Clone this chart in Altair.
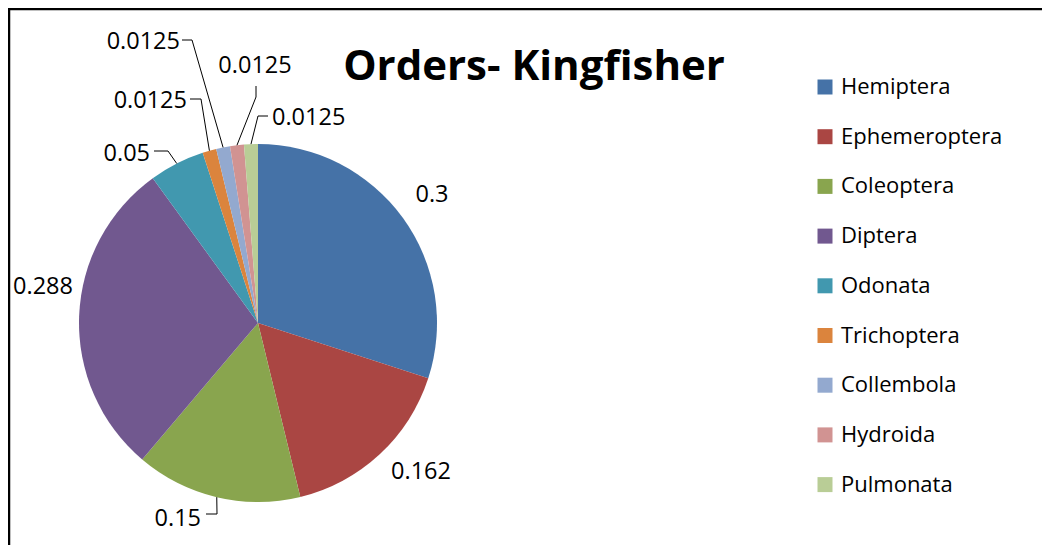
import math
import altair as alt
import pandas as pd

# ---- data ----
orders = ["Hemiptera", "Ephemeroptera", "Coleoptera", "Diptera", "Odonata",
          "Trichoptera", "Collembola", "Hydroida", "Pulmonata"]
values = [0.3, 0.162, 0.15, 0.288, 0.05, 0.0125, 0.0125, 0.0125, 0.0125]
label_text = ["0.3", "0.162", "0.15", "0.288", "0.05", "0.0125", "0.0125", "0.0125", "0.0125"]
colors = ["#4572A7", "#AA4643", "#89A54E", "#71588F", "#4198AF",
          "#DB843D", "#93A9CF", "#D19392", "#B9CD96"]
title_text = "Orders- Kingfisher"

# ---- layout ----
W, H = 1034, 537
CX, CY, R = 250, 315, 179
FONT = "Open Sans"

# label placement (offset from pie centre, px) and alignment
label_dx = [174, 163, -57, -215, -108, -71, -78, -3, 14]
label_dy = [-128, 149, 196, -36, -169, -222, -281, -257, -205]
label_align = ["center", "center", "right", "center", "right", "right", "right", "center", "left"]
# leader lines: label end point and elbow (offset from centre); last point is slice edge
leaders = {
    2: [(-52, 191), (-41, 191)],
    4: [(-104, -172), (-90, -172)],
    5: [(-68, -224), (-57, -224)],
    6: [(-76, -283), (-66, -283)],
    7: [(-2, -237), (-2, -226)],
    8: [(10, -207), (0, -207)],
}

total = sum(values)
cum = 0.0
mids = []
for v in values:
    mids.append((cum + v / 2) / total * 2 * math.pi)
    cum += v

line_rows = []
for i, pts in leaders.items():
    k = 0
    for (dx, dy) in pts:
        line_rows.append({"seg": i, "k": k, "x": CX + dx, "y": CY + dy})
        k += 1
    a = mids[i]
    line_rows.append({"seg": i, "k": k, "x": CX + R * math.sin(a), "y": CY - R * math.cos(a)})
line_df = pd.DataFrame(line_rows)

lab_df = pd.DataFrame({
    "text": label_text,
    "x": [CX + d for d in label_dx],
    "y": [CY + d for d in label_dy],
    "align": label_align,
})

xs = alt.Scale(domain=[0, W], range=[0, W], nice=False, zero=False)
ys = alt.Scale(domain=[0, H], range=[0, H], nice=False, zero=False)

pie_df = pd.DataFrame({"order": orders, "value": values, "idx": list(range(len(orders)))})

pie = alt.Chart(pie_df).mark_arc(radius=R).encode(
    theta=alt.Theta("value:Q", stack=True),
    order=alt.Order("idx:Q"),
    color=alt.Color(
        "order:N",
        sort=orders,
        scale=alt.Scale(domain=orders, range=colors),
        legend=alt.Legend(
            title=None, orient="none", legendX=806, legendY=68,
            symbolType="square", symbolSize=225, symbolStrokeWidth=0,
            labelFont=FONT, labelFontSize=22, labelColor="black",
            labelOffset=5, rowPadding=27.7, labelLimit=400,
        ),
    ),
    x=alt.value(CX),
    y=alt.value(CY),
)

lines = alt.Chart(line_df).mark_line(color="black", strokeWidth=1).encode(
    x=alt.X("x:Q", scale=xs, axis=None),
    y=alt.Y("y:Q", scale=ys, axis=None),
    detail="seg:N",
    order="k:Q",
)

text_layers = []
for al in ["center", "right", "left"]:
    text_layers.append(
        alt.Chart(lab_df[lab_df["align"] == al]).mark_text(
            align=al, baseline="middle", font=FONT, fontSize=23.5, color="black"
        ).encode(
            x=alt.X("x:Q", scale=xs, axis=None),
            y=alt.Y("y:Q", scale=ys, axis=None),
            text="text:N",
        )
    )

title = alt.Chart(pd.DataFrame({"t": [title_text]})).mark_text(
    font=FONT, fontSize=42, fontWeight="bold", align="center", baseline="middle", color="black"
).encode(text="t:N", x=alt.value(526), y=alt.value(59))

border_df = pd.DataFrame({"a": [0]})
left_border = alt.Chart(border_df).mark_rule(color="black", strokeWidth=2.5).encode(x=alt.value(1), y=alt.value(0), y2=alt.value(H))
top_border = alt.Chart(border_df).mark_rule(color="black", strokeWidth=2.5).encode(y=alt.value(1), x=alt.value(0), x2=alt.value(W))

chart = alt.layer(pie, lines, *text_layers, title, left_border, top_border).properties(
    width=W, height=H, padding=0, autosize="none"
).configure_view(stroke=None)

chart.save("out.html", embed_options={"renderer": "svg", "actions": False})
